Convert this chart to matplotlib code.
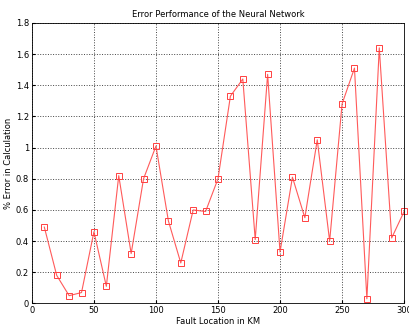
import matplotlib
matplotlib.use("Agg")
import matplotlib.pyplot as plt
import numpy as np

plt.rcParams['font.family'] = ['Liberation Sans Narrow', 'DejaVu Sans']

location = [10, 20, 30, 40, 50, 60, 70, 80, 90, 100,
            110, 120, 130, 140, 150, 160, 170, 180, 190, 200,
            210, 220, 230, 240, 250, 260, 270, 280, 290, 300]
error = [0.49, 0.18, 0.05, 0.07, 0.46, 0.11, 0.82, 0.32, 0.80, 1.01,
         0.53, 0.26, 0.60, 0.59, 0.80, 1.33, 1.44, 0.41, 1.47, 0.33,
         0.81, 0.55, 1.05, 0.40, 1.28, 1.51, 0.03, 1.64, 0.42, 0.59]

fig = plt.figure(figsize=(4.09, 3.27), dpi=100)
ax = fig.add_axes([0.078, 0.072, 0.910, 0.858])
ax.plot(location, error, color="#ff5a5a", linewidth=0.8, marker="s",
        markersize=4.5, markerfacecolor="none", markeredgecolor="#ff4040",
        markeredgewidth=0.7, clip_on=False)

ax.set_xlim(0, 300)
ax.set_ylim(0, 1.8)
ax.set_xticks(np.arange(0, 301, 50))
ax.set_yticks(np.arange(0, 1.81, 0.2))
ax.set_yticklabels(["0", "0.2", "0.4", "0.6", "0.8", "1", "1.2", "1.4", "1.6", "1.8"])
ax.grid(True, linestyle=":", color="#444444", linewidth=0.7)
ax.tick_params(labelsize=6, length=2, direction="in", pad=2)
for s in ax.spines.values():
    s.set_linewidth(0.6)
ax.set_title("Error Performance of the Neural Network", fontsize=6, pad=4)
ax.set_xlabel("Fault Location in KM", fontsize=6, labelpad=1)
ax.set_ylabel("% Error in Calculation", fontsize=6, labelpad=2)

plt.savefig("out.png", dpi=100)
